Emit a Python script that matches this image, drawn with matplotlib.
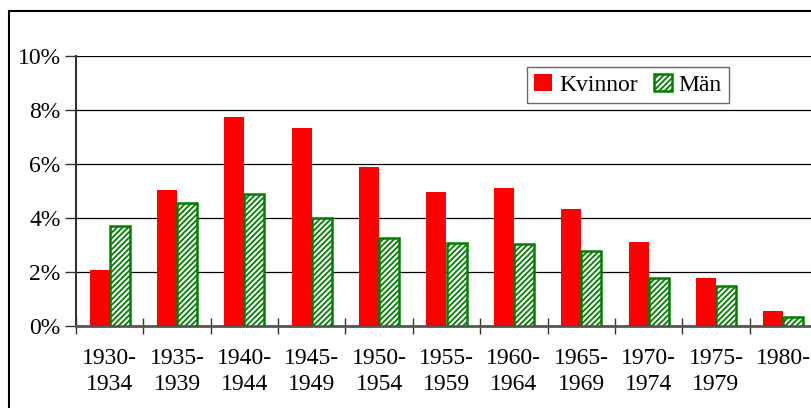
import matplotlib
matplotlib.use("Agg")
import matplotlib.pyplot as plt
import numpy as np
from matplotlib.patches import Rectangle

plt.rcParams['font.family'] = ['Liberation Serif', 'DejaVu Serif']
plt.rcParams['hatch.linewidth'] = 1.3

# age cohorts and shares (%)
cohorts = ["1930-\n1934", "1935-\n1939", "1940-\n1944", "1945-\n1949", "1950-\n1954",
           "1955-\n1959", "1960-\n1964", "1965-\n1969", "1970-\n1974", "1975-\n1979", "1980-"]
kvinnor = [2.07, 5.03, 7.73, 7.33, 5.87, 4.97, 5.09, 4.34, 3.09, 1.76, 0.53]
man = [3.70, 4.54, 4.88, 3.98, 3.26, 3.08, 3.03, 2.78, 1.78, 1.48, 0.32]

fig = plt.figure(figsize=(8.11, 4.08), dpi=100)
# outer chart frame, runs off the right and bottom edges
fig.patches.append(Rectangle((9 / 811, -0.1), 1.0, 1 - 11 / 408 + 0.1,
                             transform=fig.transFigure, fill=False,
                             edgecolor='black', linewidth=1.5))

ax = fig.add_axes([76 / 811, 1 - 325.7 / 408, 741 / 811, (325.7 - 56) / 408])

x = np.arange(len(cohorts))
w = 0.297
ax.bar(x - w / 2, kvinnor, width=w, color='#ff0000', label='Kvinnor', zorder=3)
ax.bar(x + w / 2, man, width=w, color='white', edgecolor='#008000', hatch='//////',
       linewidth=1.8, label='Män', zorder=3)

ax.set_xlim(-0.5, len(cohorts) - 0.5)
ax.set_ylim(0, 10)
ax.set_yticks([0, 2, 4, 6, 8, 10])
ax.set_yticklabels([f"{v}%" for v in [0, 2, 4, 6, 8, 10]])
ax.yaxis.grid(True, color='black', linewidth=0.9)
ax.set_axisbelow(True)

ax.set_xticks(np.arange(len(cohorts) + 1) - 0.5, minor=False)
ax.set_xticklabels([])
ax.set_xticks(x, minor=True)
ax.set_xticklabels(cohorts, minor=True, linespacing=1.3)
ax.tick_params(axis='x', which='major', direction='inout', length=12, width=1, color='#333333')
ax.tick_params(axis='x', which='minor', length=0, pad=16, labelsize=17)
ax.tick_params(axis='y', direction='out', length=8, width=1, color='#333333', labelsize=17, pad=3)

for s in ['top', 'right']:
    ax.spines[s].set_visible(False)
ax.spines['left'].set_color('#333333')
ax.spines['left'].set_linewidth(1.5)
ax.spines['bottom'].set_color('#555555')
ax.spines['bottom'].set_linewidth(2)

leg = ax.legend(loc='upper left', bbox_to_anchor=((527 - 76) / 741, 1 - (67 - 56) / 269.7),
                ncol=2, frameon=True, fancybox=False, fontsize=17, handlelength=0.75,
                handleheight=0.75, handletextpad=0.3, columnspacing=0.7,
                borderpad=0.3, borderaxespad=0)
leg.get_frame().set_edgecolor('#444444')
leg.get_frame().set_linewidth(1)

fig.savefig("out.png", dpi=100)
